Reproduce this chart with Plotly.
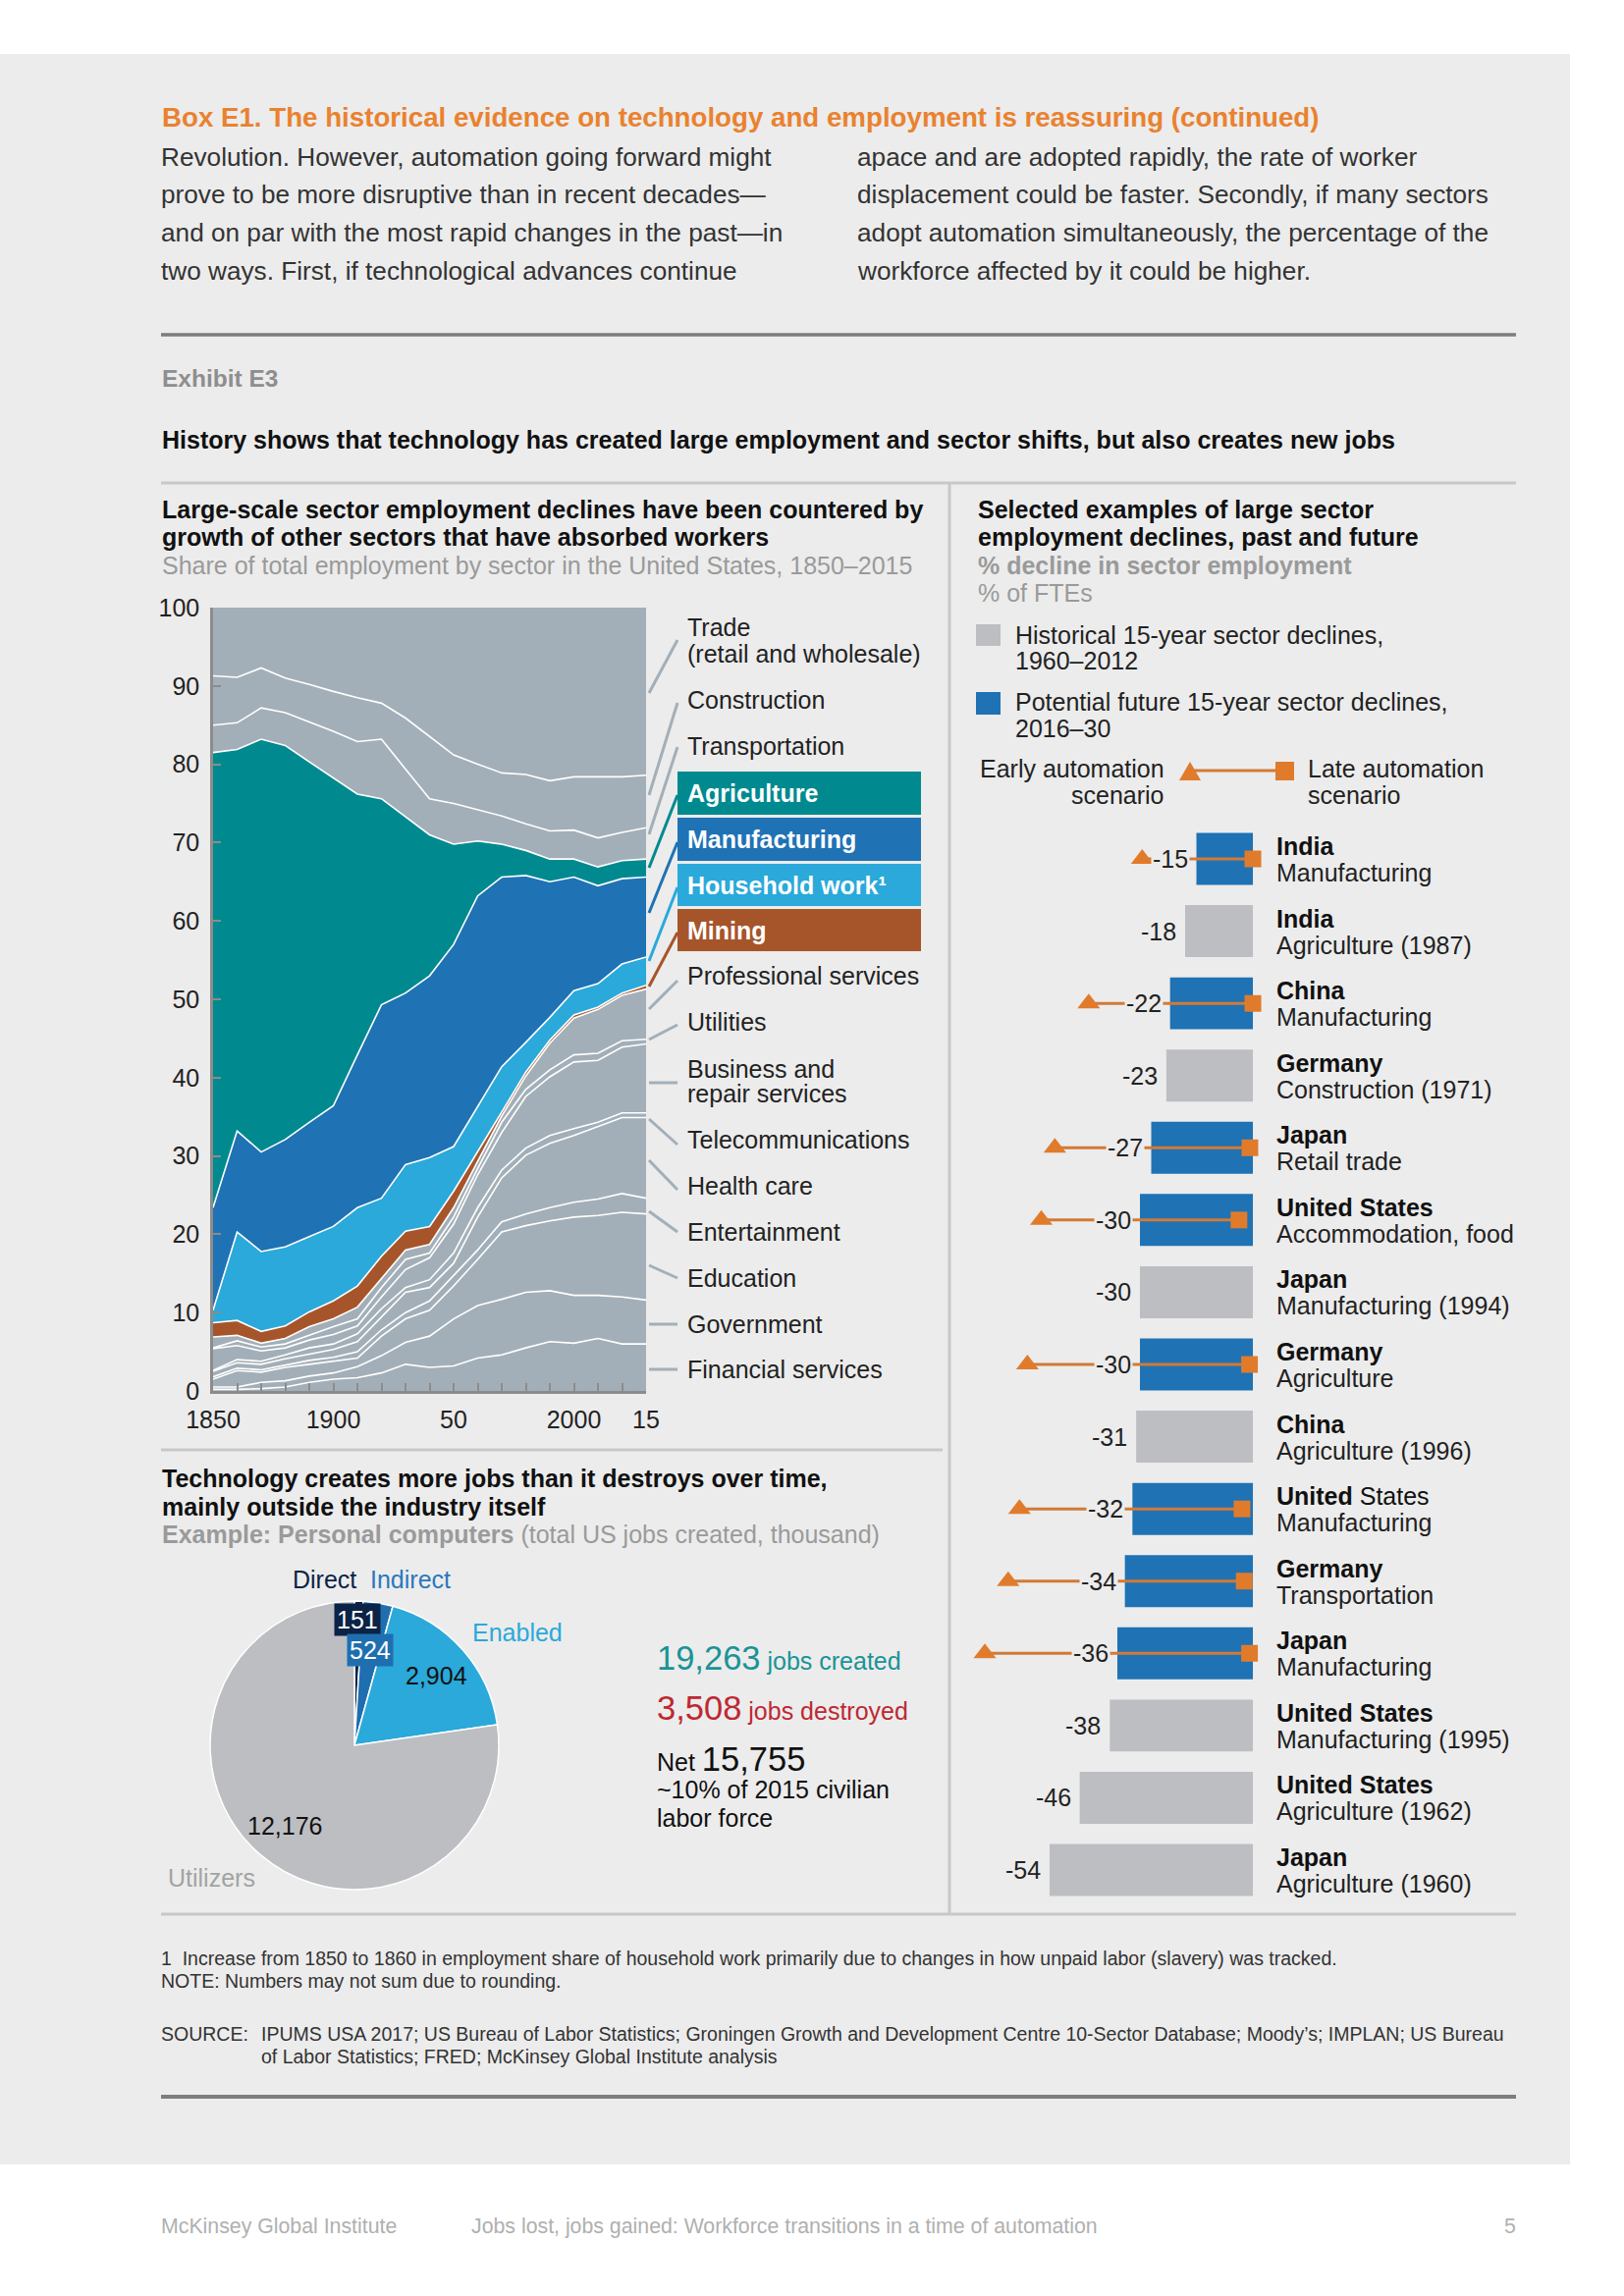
import plotly.graph_objects as go

W, H = 1654, 2339
F = "Liberation Sans, Arial, Helvetica, sans-serif"


def X(p):
    return p / W


def Y(p):
    return 1 - p / H


# ---------------- DATA ----------------
years = ["1850", "1860", "1870", "1880", "1890", "1900", "1910", "1920", "1930", "1940",
         "1950", "1960", "1970", "1980", "1990", "2000", "2005", "2010", "2015"]
year_labels = {"1850": "1850", "1900": "1900", "1950": "50", "2000": "2000", "2015": "15"}

# share of total US employment (%), stacked bottom -> top
financial = [0.2, 0.2, 0.3, 0.5, 1.1, 1.5, 1.7, 2.3, 3.4, 3.0, 3.2, 4.2, 4.6, 5.5, 6.3, 6.1, 6.7, 6.0, 6.0]
government = [0.3, 0.3, 0.8, 0.8, 0.8, 0.8, 1.4, 2.2, 2.8, 4.0, 6.0, 6.7, 7.1, 7.1, 6.5, 6.1, 5.5, 6.0, 5.6]
education = [1.0, 2.1, 1.3, 1.7, 1.5, 1.5, 1.1, 2.5, 3.0, 3.3, 4.2, 5.9, 8.6, 8.5, 8.9, 10.0, 10.2, 10.8, 11.0]
entertainment = [0.3, 0.3, 0.3, 0.3, 0.5, 0.5, 0.8, 0.8, 0.8, 1.2, 1.3, 1.2, 1.3, 1.5, 1.7, 1.9, 2.1, 2.4, 2.0]
health = [0.7, 0.7, 0.7, 0.8, 0.8, 1.0, 1.3, 1.7, 2.6, 1.7, 1.6, 4.2, 5.6, 7.5, 8.2, 8.5, 9.2, 9.7, 10.3]
telecom = [0.1, 0.4, 0.4, 0.5, 0.8, 0.7, 1.0, 1.0, 0.6, 1.0, 1.3, 1.2, 1.0, 0.9, 1.0, 0.9, 0.6, 0.6, 0.6]
business = [2.8, 1.8, 1.3, 0.9, 1.0, 1.2, 1.0, 1.5, 2.3, 2.8, 3.7, 4.2, 4.8, 6.6, 7.5, 8.5, 7.9, 8.4, 8.8]
utilities = [0.1, 0.6, 0.5, 0.5, 0.6, 1.0, 0.9, 1.2, 1.3, 0.6, 0.9, 0.8, 1.3, 0.9, 0.9, 0.9, 0.9, 0.8, 0.6]
professional = [1.4, 0.7, 0.5, 0.7, 1.1, 1.0, 1.5, 1.2, 1.2, 1.1, 1.2, 0.9, 0.8, 1.7, 3.4, 4.7, 5.6, 5.8, 6.4]
mining = [1.8, 1.9, 1.5, 1.6, 1.9, 2.3, 2.7, 2.8, 2.4, 2.3, 2.1, 1.2, 0.5, 0.5, 0.4, 0.4, 0.3, 0.3, 0.5]
household = [1.6, 11.3, 10.2, 10.1, 9.6, 9.5, 10.0, 7.4, 8.5, 8.8, 5.7, 5.8, 5.8, 3.8, 2.9, 3.1, 3.0, 3.7, 3.6]
manufacturing = [13.1, 12.9, 12.7, 13.7, 14.6, 15.4, 19.5, 24.7, 21.9, 23.2, 25.8, 26.9, 24.2, 21.3, 17.3, 14.5, 12.5, 10.9, 10.2]
agriculture = [58.1, 48.7, 52.7, 50.3, 46.0, 41.9, 33.3, 26.3, 22.5, 18.0, 12.8, 7.0, 4.2, 3.2, 2.9, 2.3, 2.4, 2.3, 2.3]
transportation = [3.5, 3.4, 4.0, 4.2, 5.1, 5.9, 6.7, 7.6, 6.1, 4.6, 5.2, 4.0, 3.6, 3.4, 3.6, 3.7, 3.7, 3.6, 4.0]
construction = [6.3, 5.8, 5.1, 4.4, 4.8, 5.1, 5.6, 4.6, 6.5, 8.0, 6.2, 5.8, 5.5, 6.3, 6.4, 6.8, 7.8, 7.1, 6.7]
trade = [8.7, 8.9, 7.7, 9.0, 9.8, 10.7, 11.5, 12.2, 14.1, 16.4, 18.8, 20.0, 21.1, 21.3, 22.1, 21.6, 21.6, 21.6, 21.4]

# sector declines (% of FTEs)
decl_country = ["India", "India", "China", "Germany", "Japan", "United States", "Japan", "Germany",
                "China", "United States", "Germany", "Japan", "United States", "United States", "Japan"]
decl_sector = ["Manufacturing", "Agriculture (1987)", "Manufacturing", "Construction (1971)", "Retail trade",
               "Accommodation, food", "Manufacturing (1994)", "Agriculture", "Agriculture (1996)",
               "Manufacturing", "Transportation", "Manufacturing", "Manufacturing (1995)",
               "Agriculture (1962)", "Agriculture (1960)"]
decl_value = [-15, -18, -22, -23, -27, -30, -30, -30, -31, -32, -34, -36, -38, -46, -54]
decl_future = [True, False, True, False, True, True, False, True, False, True, True, True, False, False, False]
decl_early = [-29.4, None, -43.6, None, -52.6, -56.2, None, -59.9, None, -62.0, -65.0, -71.2, None, None, None]
decl_late = [0.0, None, 0.0, None, -0.8, -3.7, None, -0.9, None, -2.9, -2.3, -0.9, None, None, None]

# personal computers, US jobs created (thousand)
pc_labels = ["Direct", "Indirect", "Enabled", "Utilizers"]
pc_values = [151, 524, 2904, 12176]
jobs_created = "19,263"
jobs_destroyed = "3,508"
jobs_net = "15,755"

# ---------------- STYLE ----------------
PAGE = "#ececec"
G_AREA = "#a3afb8"
C_AGR = "#008a8f"
C_MFG = "#1f72b4"
C_HH = "#2aa9da"
C_MIN = "#a6552a"
BAR_GRAY = "#bdbec2"
ORANGE = "#e07b2c"
AXIS = "#8c8c8c"
RULE_D = "#7d7d7d"
RULE_L = "#c8c8c8"
S = 25            # base text size
BIG = 34.5

fig = go.Figure()

stack = [
    ("Financial services", financial, G_AREA),
    ("Government", government, G_AREA),
    ("Education", education, G_AREA),
    ("Entertainment", entertainment, G_AREA),
    ("Health care", health, G_AREA),
    ("Telecommunications", telecom, G_AREA),
    ("Business and repair services", business, G_AREA),
    ("Utilities", utilities, G_AREA),
    ("Professional services", professional, G_AREA),
    ("Mining", mining, C_MIN),
    ("Household work", household, C_HH),
    ("Manufacturing", manufacturing, C_MFG),
    ("Agriculture", agriculture, C_AGR),
    ("Transportation", transportation, G_AREA),
    ("Construction", construction, G_AREA),
    ("Trade", trade, G_AREA),
]
for name, vals, col in stack:
    top = name == "Trade"
    fig.add_trace(go.Scatter(
        x=years, y=vals, name=name, mode="lines", stackgroup="emp",
        line=dict(color=col if top else "white", width=0 if top else 1.6),
        fillcolor=col, xaxis="x", yaxis="y", hoverinfo="skip"))

rows = list(range(len(decl_value)))
fig.add_trace(go.Bar(
    x=decl_value, y=rows, orientation="h", width=0.72,
    marker=dict(color=[C_MFG if f else BAR_GRAY for f in decl_future], line=dict(width=0)),
    xaxis="x2", yaxis="y2", hoverinfo="skip"))
lx, ly = [], []
for i in rows:
    if decl_future[i]:
        lx += [decl_early[i], decl_late[i], None]
        ly += [i, i, None]
fig.add_trace(go.Scatter(x=lx, y=ly, mode="lines", line=dict(color="#d27a36", width=3),
                         xaxis="x2", yaxis="y2", hoverinfo="skip"))
fr = [i for i in rows if decl_future[i]]
fig.add_trace(go.Scatter(x=[decl_early[i] for i in fr], y=fr, mode="markers",
                         marker=dict(symbol="triangle-up", size=20, color=ORANGE),
                         xaxis="x2", yaxis="y2", hoverinfo="skip"))
fig.add_trace(go.Scatter(x=[decl_late[i] for i in fr], y=fr, mode="markers",
                         marker=dict(symbol="square", size=17, color=ORANGE),
                         xaxis="x2", yaxis="y2", hoverinfo="skip"))

fig.add_trace(go.Pie(
    labels=pc_labels, values=pc_values, sort=False, direction="clockwise", rotation=0,
    marker=dict(colors=["#0b2346", "#1f6fb0", "#2aa9da", BAR_GRAY], line=dict(color="white", width=1.5)),
    textinfo="none", hoverinfo="skip", showlegend=False,
    domain=dict(x=[X(214), X(508)], y=[Y(1925), Y(1631)])))

# ---------------- TEXT & SHAPES ----------------
ann = []
shp = []


def T(x, y, text, size=S, color="#222", anchor="left", bold=False, **kw):
    if bold:
        text = "<b>" + text + "</b>"
    ann.append(dict(x=X(x), y=Y(y), xref="paper", yref="paper", text=text, showarrow=False,
                    xanchor=anchor, yanchor="middle", font=dict(size=size, color=color, family=F), **kw))


def L(x0, y0, x1, y1, color, width):
    shp.append(dict(type="line", xref="paper", yref="paper", x0=X(x0), y0=Y(y0), x1=X(x1), y1=Y(y1),
                    line=dict(color=color, width=width)))


def R(x0, y0, x1, y1, color, layer="above"):
    shp.append(dict(type="rect", xref="paper", yref="paper", x0=X(x0), y0=Y(y0), x1=X(x1), y1=Y(y1),
                    fillcolor=color, line=dict(width=0), layer=layer))


R(0, 55, 1599, 2205, PAGE, layer="below")

T(163, 119, "Box E1. The historical evidence on technology and employment is reassuring (continued)",
  27.7, "#e9822f", bold=True)
left_col = ["Revolution. However, automation going forward might",
            "prove to be more disruptive than in recent decades—",
            "and on par with the most rapid changes in the past—in",
            "two ways. First, if technological advances continue"]
right_col = ["apace and are adopted rapidly, the rate of worker",
             "displacement could be faster. Secondly, if many sectors",
             "adopt automation simultaneously, the percentage of the",
             "workforce affected by it could be higher."]
for k, yy in enumerate([160, 198, 237, 276]):
    T(162, yy, left_col[k], 26.2, "#333")
    T(871, yy, right_col[k], 26.2, "#333")

L(164, 341, 1544, 341, RULE_D, 3.5)
T(163, 386, "Exhibit E3", 24.5, "#8e8e8e", bold=True)
T(163, 448, "History shows that technology has created large employment and sector shifts, but also creates new jobs",
  S, "#111", bold=True)
L(164, 492, 1544, 492, RULE_L, 3)
L(967, 492, 967, 1950, RULE_L, 3)
L(164, 1477, 960, 1477, RULE_L, 3)
L(164, 1950, 1544, 1950, RULE_L, 3)

# left panel titles
T(163, 519, "Large-scale sector employment declines have been countered by", S, "#111", bold=True)
T(163, 547, "growth of other sectors that have absorbed workers", S, "#111", bold=True)
T(163, 576, "Share of total employment by sector in the United States, 1850–2015", S, "#9a9a9a")

# sector labels with leader lines
labels_plain = [
    ("Trade", 639), ("(retail and wholesale)", 666), ("Construction", 713), ("Transportation", 760),
    ("Professional services", 994), ("Utilities", 1041), ("Business and", 1089), ("repair services", 1114),
    ("Telecommunications", 1161), ("Health care", 1208), ("Entertainment", 1255), ("Education", 1302),
    ("Government", 1349), ("Financial services", 1395)]
for txt, yy in labels_plain:
    T(698, yy, txt, S, "#222")
boxes = [("Agriculture", 786, 830, C_AGR), ("Manufacturing", 833, 877, C_MFG),
         ("Household work¹", 880, 923, C_HH), ("Mining", 926, 969, C_MIN)]
for txt, y0, y1, col in boxes:
    R(690, y0, 938, y1, col)
    T(698, (y0 + y1) / 2, txt, S, "white", bold=True)
leaders = [(706, 652, G_AREA), (810, 716, G_AREA), (850, 761, G_AREA), (884, 810, C_AGR),
           (930, 858, C_MFG), (979, 904, C_HH), (1005, 950, C_MIN), (1028, 999, G_AREA),
           (1059, 1044, G_AREA), (1103, 1103, G_AREA), (1140, 1166, G_AREA), (1182, 1212, G_AREA),
           (1234, 1255, G_AREA), (1289, 1302, G_AREA), (1349, 1349, G_AREA), (1395, 1395, G_AREA)]
for y0, y1, col in leaders:
    L(661, y0, 690, y1, col, 3)

# right panel
T(994, 519, "Selected examples of large sector", S, "#111", bold=True)
T(994, 547, "employment declines, past and future", S, "#111", bold=True)
T(994, 576, "% decline in sector employment", S, "#9a9a9a", bold=True)
T(994, 604, "% of FTEs", S, "#9a9a9a")
R(994, 636, 1019, 658, BAR_GRAY)
T(1032, 647, "Historical 15-year sector declines,", S, "#222")
T(1032, 673, "1960–2012", S, "#222")
R(994, 705, 1019, 728, C_MFG)
T(1032, 715, "Potential future 15-year sector declines,", S, "#222")
T(1032, 742, "2016–30", S, "#222")
T(1188, 783, "Early automation", S, "#222", anchor="right")
T(1188, 810, "scenario", S, "#222", anchor="right")
T(1330, 783, "Late automation", S, "#222")
T(1330, 810, "scenario", S, "#222")
L(1212, 785, 1308, 785, "#d27a36", 3)
shp.append(dict(type="path", xref="paper", yref="paper",
                path=f"M {X(1201)},{Y(795)} L {X(1223)},{Y(795)} L {X(1212)},{Y(776)} Z",
                fillcolor=ORANGE, line=dict(width=0)))
R(1299, 776, 1318, 795, ORANGE)

row0, rstep = 875.0, 73.57
for i in rows:
    cy = row0 + rstep * i
    ann.append(dict(x=decl_value[i], y=i, xref="x2", yref="y2", text=str(decl_value[i]), showarrow=False,
                    xanchor="right", yanchor="middle", xshift=-7, bgcolor=PAGE, borderpad=1,
                    font=dict(size=S, color="#222", family=F)))
    country = decl_country[i]
    if country == "United States" and decl_sector[i] == "Manufacturing":
        ctext = "<b>United</b> States"
    else:
        ctext = "<b>" + country + "</b>"
    T(1298, cy - 13, ctext, S, "#111")
    T(1298, cy + 14, decl_sector[i], S, "#222")

# pie panel
T(163, 1506, "Technology creates more jobs than it destroys over time,", S, "#111", bold=True)
T(163, 1535, "mainly outside the industry itself", S, "#111", bold=True)
T(163, 1563, "<b>Example: Personal computers</b> (total US jobs created, thousand)", S, "#9a9a9a")
T(330, 1609, pc_labels[0], S, "#0b2346", anchor="center")
T(375, 1609, pc_labels[1], S, "#2a78bd")
T(479, 1663, pc_labels[2], S, "#2aa9da")
T(169, 1913, pc_labels[3], S, "#a3a3a3")
ann.append(dict(x=X(364), y=Y(1650), xref="paper", yref="paper", text=f"{pc_values[0]:,}", showarrow=False,
                xanchor="center", yanchor="middle", bgcolor="#0b2346", borderpad=2,
                font=dict(size=S, color="white", family=F)))
ann.append(dict(x=X(377), y=Y(1681), xref="paper", yref="paper", text=f"{pc_values[1]:,}", showarrow=False,
                xanchor="center", yanchor="middle", bgcolor="#1f6fb0", borderpad=2,
                font=dict(size=S, color="white", family=F)))
T(445, 1707, f"{pc_values[2]:,}", S, "#111", anchor="center")
T(290, 1860, f"{pc_values[3]:,}", S, "#111", anchor="center")

T(667, 1689, f"<span style='font-size:{BIG}px'>{jobs_created}</span> jobs created", S, "#1a9396")
T(667, 1740, f"<span style='font-size:{BIG}px'>{jobs_destroyed}</span> jobs destroyed", S, "#be2832")
T(667, 1792, f"Net <span style='font-size:{BIG}px'>{jobs_net}</span>", S, "#111")
T(667, 1823, "~10% of 2015 civilian", S, "#111")
T(667, 1852, "labor force", S, "#111")

# footnotes
FN = 19.5
T(162, 1995, "1  Increase from 1850 to 1860 in employment share of household work primarily due to changes in how unpaid labor (slavery) was tracked.", FN, "#333")
T(162, 2018, "NOTE: Numbers may not sum due to rounding.", FN, "#333")
T(162, 2072, "SOURCE:", FN, "#333")
T(264, 2072, "IPUMS USA 2017; US Bureau of Labor Statistics; Groningen Growth and Development Centre 10-Sector Database; Moody’s; IMPLAN; US Bureau", FN, "#333")
T(264, 2095, "of Labor Statistics; FRED; McKinsey Global Institute analysis", FN, "#333")
L(164, 2136, 1544, 2136, RULE_D, 4)

T(162, 2268, "McKinsey Global Institute", 21.3, "#b0b0b0")
T(478, 2268, "Jobs lost, jobs gained: Workforce transitions in a time of automation", 21.3, "#b0b0b0")
T(1546, 2268, "5", 21.3, "#b0b0b0", anchor="right")

fig.update_layout(
    width=W, height=H, margin=dict(l=0, r=0, t=0, b=0, pad=0, autoexpand=False),
    paper_bgcolor="white", plot_bgcolor="rgba(0,0,0,0)", showlegend=False,
    font=dict(family=F),
    xaxis=dict(domain=[X(217), X(658)], type="category", range=[0, 18], tickmode="array",
               tickvals=years, ticktext=[year_labels.get(y, "") for y in years],
               ticks="inside", ticklen=8, tickwidth=2, tickcolor=AXIS, showline=True,
               linecolor=AXIS, linewidth=2.5, showgrid=False, zeroline=False, automargin=False,
               tickfont=dict(size=25, color="#222", family=F), anchor="y", ticklabelstandoff=5),
    yaxis=dict(domain=[Y(1417), Y(619)], range=[0, 100], tickmode="array",
               tickvals=list(range(0, 101, 10)), ticks="inside", ticklen=8, tickwidth=2,
               tickcolor=AXIS, showline=True, linecolor=AXIS, linewidth=2.5, showgrid=False,
               zeroline=False, automargin=False, tickfont=dict(size=25, color="#222", family=F),
               anchor="x", ticklabelstandoff=6),
    xaxis2=dict(domain=[X(988.45), X(1295.2)], range=[-75, 5], visible=False, anchor="y2", automargin=False),
    yaxis2=dict(domain=[Y(1941.8), Y(838.2)], range=[14.5, -0.5], visible=False, anchor="x2", automargin=False),
    annotations=ann, shapes=shp,
)

fig.write_html("out.html", config={"displayModeBar": False},
               post_script="document.body.style.margin='0px';document.body.style.overflow='hidden';")
